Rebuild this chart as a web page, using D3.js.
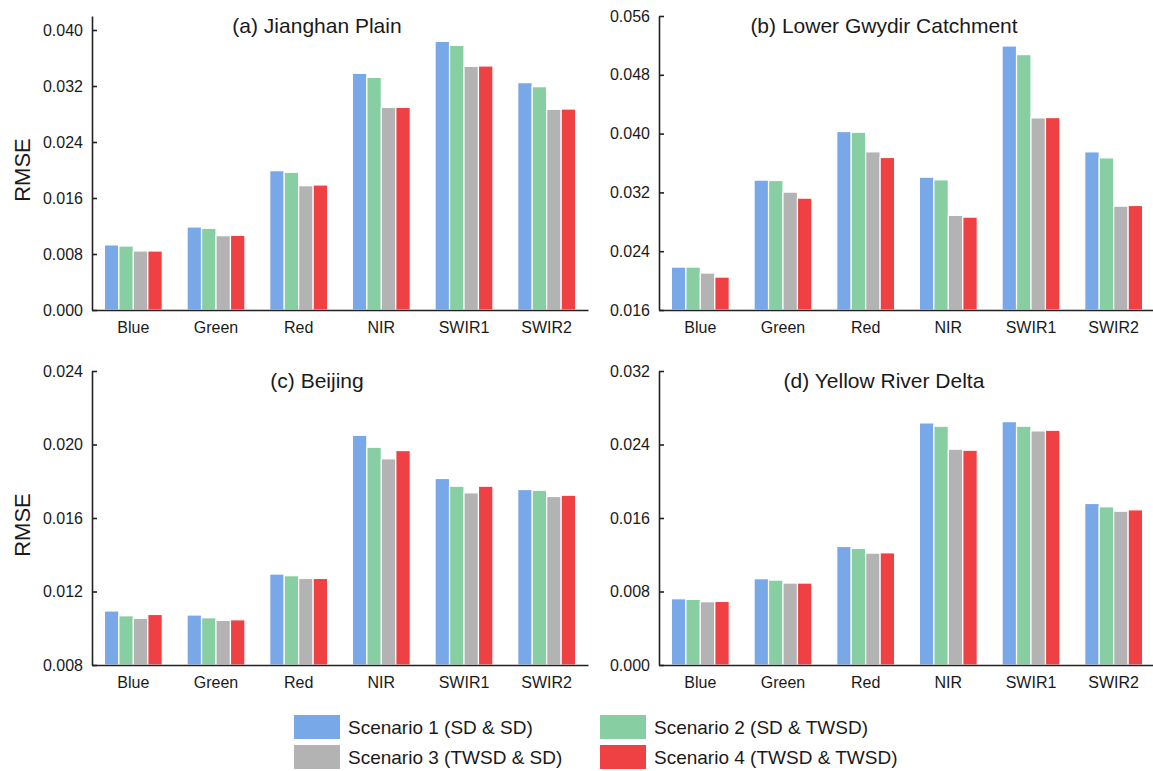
<!DOCTYPE html>
<html>
<head>
<meta charset="utf-8">
<script src="https://cdn.jsdelivr.net/npm/d3@7"></script>
<style>
  body { margin: 0; background: #fff; }
  svg text { font-family: "Liberation Sans", Arial, sans-serif; fill: #1a1a1a; }
</style>
</head>
<body>
<div id="chart"></div>
<script>
// band names shown under each group
const bands = ['Blue', 'Green', 'Red', 'NIR', 'SWIR1', 'SWIR2'];

const scenarios = [
  'Scenario 1 (SD & SD)',
  'Scenario 2 (SD & TWSD)',
  'Scenario 3 (TWSD & SD)',
  'Scenario 4 (TWSD & TWSD)'
];
const scenarioColors = ['#78a8e8', '#88cea3', '#b3b3b3', '#ef4043'];

// RMSE per scenario (rows) and band (columns)
const jianghan = [
  [0.0093, 0.01186, 0.0199, 0.03381, 0.03838, 0.03248],
  [0.00914, 0.01167, 0.01967, 0.03324, 0.03781, 0.0319],
  [0.00843, 0.01062, 0.01776, 0.02895, 0.03481, 0.02867],
  [0.00843, 0.01067, 0.01786, 0.02895, 0.03486, 0.02871]
];
const gwydir = [
  [0.02184, 0.03367, 0.04028, 0.03407, 0.05192, 0.03752],
  [0.02184, 0.03362, 0.04019, 0.03371, 0.05075, 0.0367],
  [0.02103, 0.03204, 0.03752, 0.02887, 0.04214, 0.03013],
  [0.02048, 0.03122, 0.03675, 0.02864, 0.04218, 0.03022]
];
const beijing = [
  [0.01094, 0.01072, 0.01295, 0.0205, 0.01815, 0.01755],
  [0.01068, 0.01057, 0.01286, 0.01985, 0.01773, 0.01751],
  [0.01054, 0.01043, 0.01271, 0.01922, 0.01737, 0.01717],
  [0.01075, 0.01046, 0.01271, 0.01967, 0.01773, 0.01724]
];
const yellowRiver = [
  [0.00721, 0.00939, 0.0129, 0.02635, 0.02649, 0.01758],
  [0.00714, 0.00924, 0.01269, 0.02599, 0.02599, 0.01722],
  [0.00689, 0.00892, 0.01218, 0.02349, 0.02548, 0.01674],
  [0.00692, 0.00892, 0.01221, 0.02338, 0.02555, 0.01689]
];

const ticksA = [0, 0.008, 0.016, 0.024, 0.032, 0.040];
const ticksB = [0.016, 0.024, 0.032, 0.040, 0.048, 0.056];
const ticksC = [0.008, 0.012, 0.016, 0.020, 0.024];
const ticksD = [0, 0.008, 0.016, 0.024, 0.032];

const panels = [
  { title: '(a) Jianghan Plain', data: jianghan, domain: [0, 0.042], ticks: ticksA, x: 92, y: 16, ylabel: true },
  { title: '(b) Lower Gwydir Catchment', data: gwydir, domain: [0.016, 0.056], ticks: ticksB, x: 659, y: 16, ylabel: false },
  { title: '(c) Beijing', data: beijing, domain: [0.008, 0.024], ticks: ticksC, x: 92, y: 371, ylabel: true },
  { title: '(d) Yellow River Delta', data: yellowRiver, domain: [0, 0.032], ticks: ticksD, x: 659, y: 371, ylabel: false }
];

const width = 1153;
const height = 771;
const plotW = 496;
const plotH = 294;

const svg = d3.select('#chart').append('svg')
  .attr('width', width)
  .attr('height', height);

panels.forEach((p) => {
  const g = svg.append('g').attr('transform', `translate(${p.x},${p.y})`);

  const x0 = d3.scaleBand().domain(bands).range([0, plotW]).paddingInner(0.3).paddingOuter(0.15);
  const x1 = d3.scaleBand().domain(d3.range(scenarios.length)).range([0, x0.bandwidth()]);
  const y = d3.scaleLinear().domain(p.domain).range([plotH, 0]);

  // bars
  const groups = g.selectAll('g.band').data(bands).join('g')
    .attr('class', 'band')
    .attr('transform', (d) => `translate(${x0(d)},0)`);

  groups.selectAll('rect')
    .data((b, bi) => p.data.map((series, si) => ({ si, v: series[bi] })))
    .join('rect')
    .attr('x', (d) => x1(d.si))
    .attr('width', x1.bandwidth())
    .attr('y', (d) => y(d.v))
    .attr('height', (d) => y(p.domain[0]) - y(d.v))
    .attr('fill', (d) => scenarioColors[d.si])
    .attr('stroke', '#fff')
    .attr('stroke-width', 1.2);

  // y axis, ticks point inward
  const yAxis = g.append('g')
    .call(d3.axisLeft(y).tickValues(p.ticks).tickFormat(d3.format('.3f')).tickSize(-5).tickPadding(9).tickSizeOuter(0));
  yAxis.selectAll('text').style('font-size', '16px');

  // x axis
  const xAxis = g.append('g')
    .attr('transform', `translate(0,${plotH})`)
    .call(d3.axisBottom(x0).tickSize(0).tickPadding(12).tickSizeOuter(0));
  xAxis.selectAll('text').style('font-size', '16px');

  svg.selectAll('.domain, .tick line').attr('stroke', '#222').attr('stroke-width', 1.6);

  g.append('text')
    .attr('x', 225)
    .attr('y', 17)
    .attr('text-anchor', 'middle')
    .style('font-size', '21px')
    .text(p.title);

  if (p.ylabel) {
    g.append('text')
      .attr('transform', `translate(${-62},${plotH / 2 + 7}) rotate(-90)`)
      .attr('text-anchor', 'middle')
      .style('font-size', '22px')
      .text('RMSE');
  }
});

// legend, two columns by two rows
const legend = svg.append('g').attr('transform', 'translate(294,715)');
const items = legend.selectAll('g').data(scenarios).join('g')
  .attr('transform', (d, i) => `translate(${(i % 2) * 306},${Math.floor(i / 2) * 30})`);
items.append('rect')
  .attr('width', 46)
  .attr('height', 24)
  .attr('fill', (d, i) => scenarioColors[i]);
items.append('text')
  .attr('x', 54)
  .attr('y', 19)
  .style('font-size', '19px')
  .text((d) => d);
</script>
</body>
</html>
